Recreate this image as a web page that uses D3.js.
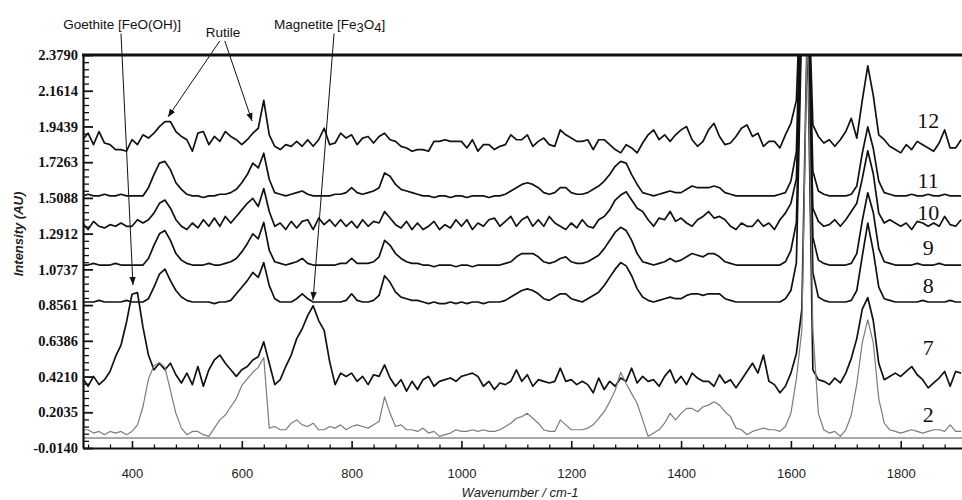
<!DOCTYPE html>
<html lang="en">

<head>
    <meta charset="utf-8">
    <script src="https://d3js.org/d3.v7.min.js"></script>
    <style>
        body {
            margin: 0;
            background: #fff;
        }
    </style>
</head>

<body>
    <script>
        // wavenumber grid (cm-1), one reading every 10 cm-1 from 310 to 1910
        const wavenumbers = d3.range(310, 1911, 10);

        // spectrum names, the offset each one is stacked at, and where its number sits
        const labels = ["12", "11", "10", "9", "8", "7", "2"];
        const baselines = [1.813, 1.521, 1.326, 1.100, 0.875, 0.382, 0.077];
        const labelLevels = [1.935, 1.569, 1.375, 1.161, 0.930, 0.552, 0.144];

        // intensity above the baseline (AU)
        const s12 = [
            0.05, 0.09, 0.02, 0.10, 0.03, 0.02, -0.01, -0.01, -0.02, 0.05,   // 310-400
            0.02, 0.08, 0.06, 0.09, 0.13, 0.16, 0.16, 0.10, 0.07, 0.05,      // 410-500
            -0.02, 0.09, 0.10, 0.02, 0.07, 0.04, 0.10, 0.07, 0.05, 0.02,     // 510-600
            0.05, 0.09, 0.12, 0.29, 0.08, 0.01, -0.01, 0.02, 0.01, 0.04,     // 610-700
            0.01, 0.05, 0.01, 0.05, 0.12, 0.02, 0.03, 0.09, 0.06, 0.08,      // 710-800
            0.02, 0.06, 0.07, 0.03, 0.07, 0.09, 0.05, 0.04, 0.01, 0.00,      // 810-900
            -0.02, -0.01, -0.01, -0.02, 0.04, 0.04, 0.05, 0.04, 0.04, 0.04,  // 910-1000
            0.00, 0.05, -0.02, 0.02, 0.02, -0.01, 0.01, 0.02, 0.08, 0.05,    // 1010-1100
            0.05, 0.08, 0.01, 0.04, 0.06, 0.02, 0.01, 0.11, 0.08, 0.06,      // 1110-1200
            0.04, 0.04, 0.05, -0.01, 0.05, 0.05, 0.02, -0.01, -0.03, 0.02,   // 1210-1300
            0.00, -0.03, 0.03, 0.08, 0.11, 0.05, 0.08, 0.04, 0.08, 0.11,     // 1310-1400
            0.13, 0.05, 0.01, 0.04, 0.11, 0.15, 0.07, 0.02, 0.03, 0.07,      // 1410-1500
            0.12, 0.14, 0.07, 0.09, 0.01, 0.04, 0.04, 0.00, 0.08, 0.15,      // 1510-1600
            0.29, 1.20, 1.20, 0.14, 0.07, 0.03, 0.05, 0.01, 0.05, 0.10,      // 1610-1700
            0.18, 0.06, 0.29, 0.50, 0.32, 0.08, 0.05, 0.01, -0.01, -0.03,    // 1710-1800
            0.02, -0.01, 0.04, 0.02, 0.00, -0.02, 0.03, 0.11, 0.00, 0.00,    // 1810-1900
            0.05
        ];
        const s11 = [
            0, 0.01, 0, 0, 0.01, 0, 0, 0.01, 0, 0,
            0, 0, 0.05, 0.13, 0.20, 0.21, 0.16, 0.08, 0.04, 0.01,
            0, 0, -0.01, 0, 0, 0.01, 0.01, 0.02, 0.04, 0.08,
            0.13, 0.20, 0.17, 0.26, 0.10, 0.02, 0.01, 0, 0.01, 0.02,
            0.03, 0.01, 0, 0, 0, 0, 0.01, 0.01, 0.02, 0.05,
            0.02, 0.01, 0.02, 0.03, 0.05, 0.14, 0.12, 0.07, 0.04, 0.03,
            0.02, 0.01, 0, 0, -0.01, 0, 0, -0.01, 0, 0,
            -0.01, 0, 0, 0, -0.01, 0, 0, 0.01, 0.03, 0.05,
            0.07, 0.08, 0.07, 0.05, 0.02, 0.01, 0.02, 0.05, 0.05, 0.02,
            0.01, 0.01, 0.02, 0.04, 0.06, 0.09, 0.13, 0.18, 0.21, 0.20,
            0.13, 0.07, 0.02, 0.01, 0, 0.01, 0.02, 0.03, 0.02, 0.02,
            0.04, 0.06, 0.05, 0.05, 0.05, 0.06, 0.05, 0.02, 0.01, 0,
            0, 0, 0, 0, 0, 0, 0, 0.01, 0.02, 0.09,
            0.27, 1.50, 1.50, 0.15, 0.03, 0.01, 0, 0, 0, 0,
            0.01, 0.06, 0.26, 0.42, 0.29, 0.09, 0.02, 0.01, 0, 0,
            0, 0.01, 0, 0, 0.01, 0, 0, 0.01, 0, 0,
            0
        ];
        const s10 = [
            0.03, -0.01, 0.04, 0.01, 0, 0.02, 0.01, 0.03, 0.01, 0.01,
            0.05, 0.03, 0.05, 0.09, 0.15, 0.17, 0.12, 0.05, 0.01, -0.01,
            0.03, 0, 0.05, 0.01, 0.06, 0.01, 0.07, 0.03, 0.07, 0.11,
            0.15, 0.18, 0.13, 0.24, 0.10, 0.01, 0.03, -0.01, 0.04, 0,
            0.04, 0.05, -0.01, 0.06, 0.02, 0.05, 0.01, 0.05, 0.01, 0.04,
            0, 0.05, 0.01, 0.04, 0.03, 0.10, 0.06, 0.02, 0, 0.04,
            -0.01, 0.03, -0.01, 0.01, 0.04, -0.01, 0.02, 0, 0.05, 0.01,
            0.05, -0.01, 0.03, 0.01, 0.05, 0.06, 0.01, 0.04, 0.07, 0.01,
            0.05, 0.07, 0.01, 0.05, 0.01, 0.07, 0.03, 0.01, -0.01, 0.03,
            0, 0.05, 0.01, 0, 0.05, 0.07, 0.11, 0.17, 0.20, 0.22,
            0.17, 0.12, 0.10, 0.05, 0.01, 0.06, 0.05, 0.10, 0.04, 0.06,
            0.03, 0.01, 0.05, 0.07, 0.10, 0.06, 0.07, 0.05, 0.01, -0.01,
            0.03, 0.01, 0.01, 0.05, 0.01, 0.03, -0.01, 0.05, 0.09, 0.15,
            0.30, 1.40, 1.40, 0.12, 0.04, 0.01, 0.02, 0.05, 0.01, 0.05,
            0.10, 0.15, 0.30, 0.47, 0.33, 0.09, 0.03, 0.05, 0.03, 0.01,
            0.03, -0.01, 0.04, 0.03, 0.01, 0.03, 0.01, 0.07, 0.02, 0.01,
            0.05
        ];
        const s9 = [
            0, 0, 0.01, 0, 0, 0, 0.01, 0, 0, 0,
            0, 0, 0.04, 0.12, 0.19, 0.21, 0.15, 0.07, 0.03, 0.01,
            0, 0, 0, 0.01, 0, 0, 0.01, 0.02, 0.04, 0.08,
            0.13, 0.19, 0.16, 0.26, 0.09, 0.02, 0.01, 0, 0.01, 0.02,
            0.04, 0.01, 0, 0, 0, 0, 0, 0.01, 0.01, 0.04,
            0.01, 0.01, 0.01, 0.02, 0.05, 0.15, 0.12, 0.07, 0.04, 0.02,
            0.01, 0.01, 0, 0, -0.01, 0, 0, 0, -0.01, 0,
            0, -0.01, 0, 0, 0, 0, 0, 0.01, 0.02, 0.05,
            0.07, 0.07, 0.07, 0.05, 0.02, 0.01, 0.02, 0.04, 0.05, 0.02,
            0.01, 0.01, 0.02, 0.04, 0.06, 0.10, 0.15, 0.20, 0.23, 0.21,
            0.15, 0.07, 0.02, 0.01, 0, 0.01, 0.02, 0.04, 0.02, 0.03,
            0.05, 0.07, 0.06, 0.05, 0.07, 0.07, 0.05, 0.02, 0.01, 0,
            0, 0, 0, 0, 0, 0, 0, 0, 0.02, 0.09,
            0.26, 1.60, 1.60, 0.17, 0.03, 0.01, 0, 0, 0, 0,
            0.01, 0.07, 0.27, 0.44, 0.32, 0.10, 0.02, 0.01, 0, 0,
            0, 0, 0.01, 0, 0, 0, 0.01, 0, 0, 0,
            0
        ];
        const s8 = [
            0, 0, 0, 0.01, 0, 0, 0, 0, 0.01, 0,
            0, 0, 0.02, 0.09, 0.17, 0.20, 0.13, 0.07, 0.03, 0.01,
            0, 0, 0, 0, -0.01, 0, 0, 0.01, 0.05, 0.09,
            0.13, 0.18, 0.15, 0.24, 0.10, 0.02, 0, 0, 0, 0.02,
            0.05, 0.02, 0, 0, 0, 0, 0, 0, 0.01, 0.05,
            0.01, 0, 0, 0.01, 0.04, 0.16, 0.12, 0.06, 0.03, 0.02,
            0.01, 0.01, 0, -0.01, 0, -0.01, -0.01, 0, -0.01, 0,
            -0.01, 0, 0, -0.01, 0, 0, 0, 0.01, 0.03, 0.05,
            0.07, 0.08, 0.07, 0.05, 0.02, 0.01, 0.03, 0.05, 0.05, 0.02,
            0.01, 0, 0.02, 0.04, 0.06, 0.10, 0.15, 0.20, 0.24, 0.22,
            0.16, 0.08, 0.03, 0.01, 0, 0.01, 0.02, 0.03, 0.02, 0.02,
            0.04, 0.05, 0.05, 0.04, 0.05, 0.05, 0.05, 0.02, 0.01, 0,
            0, 0, 0, 0, 0, 0, 0, 0, 0.02, 0.07,
            0.24, 1.75, 1.75, 0.18, 0.03, 0.01, 0, 0, 0, 0,
            0.01, 0.07, 0.28, 0.48, 0.31, 0.09, 0.02, 0.01, 0, 0,
            0, 0, 0, 0.01, 0, 0, 0, 0, 0.01, 0,
            0
        ];
        const s7 = [
            0.03, -0.02, 0.04, -0.01, 0.02, 0.07, 0.16, 0.23, 0.37, 0.54,
            0.55, 0.34, 0.17, 0.08, 0.12, 0.08, 0.12, 0.05, 0, 0.06,
            -0.01, 0.10, -0.02, 0.08, 0.14, 0.17, 0.12, 0.08, 0.04, 0.08,
            0.10, 0.14, 0.16, 0.25, 0.12, -0.01, 0.02, 0.10, 0.17, 0.27,
            0.33, 0.41, 0.47, 0.38, 0.32, 0.13, -0.01, 0.06, 0.04, 0.06,
            0.01, 0.04, -0.01, 0.05, 0.04, 0.11, 0.03, -0.02, 0.02, -0.05,
            0.01, -0.04, 0.02, 0.04, -0.02, 0.01, 0.02, 0.03, 0.01, 0.04,
            0.05, 0.06, 0.04, -0.02, 0.01, -0.04, 0, -0.01, 0.01, 0.08,
            0.01, 0.05, -0.02, 0.02, 0.01, 0, 0.01, 0.09, 0.01, 0.02,
            -0.01, 0.01, -0.01, -0.06, 0.03, -0.04, 0.01, -0.02, 0.03, 0.01,
            0.09, 0, 0.04, 0.01, 0.02, -0.02, 0.04, 0.08, 0, 0.04,
            -0.01, 0.06, 0.03, 0.01, 0.01, -0.02, 0.05, 0, 0.02, -0.03,
            0.02, 0.07, 0.12, 0.06, 0.17, 0.01, -0.01, -0.06, -0.02, 0.06,
            0.18, 0.45, 2.20, 0.08, 0.02, 0.01, -0.01, 0.03, 0, 0.06,
            0.15, 0.27, 0.45, 0.52, 0.38, 0.12, 0.02, 0.04, 0.06, 0.04,
            0.07, 0.10, 0.05, 0.02, -0.03, 0, 0.03, 0.07, -0.02, 0.07,
            0.06
        ];
        const s2 = [
            0.02, 0.02, 0, 0.01, -0.01, 0.01, 0, 0.01, -0.01, 0.01,
            0.05, 0.16, 0.33, 0.41, 0.43, 0.40, 0.26, 0.12, 0.03, -0.01,
            0.01, 0.01, -0.01, -0.02, 0.03, 0.08, 0.11, 0.16, 0.21, 0.29,
            0.33, 0.37, 0.40, 0.46, 0.03, 0.04, 0.02, 0.02, 0.06, 0.08,
            0.05, 0.04, 0.06, 0.02, 0.02, 0.04, 0.03, 0.05, 0.02, 0.04,
            0.05, 0.04, 0.03, 0.05, 0.07, 0.22, 0.12, 0.04, 0.05, 0.02,
            0.02, 0.01, 0.03, 0, 0.01, -0.02, -0.01, 0, 0.02, 0.01,
            0.01, 0.02, 0.01, 0.02, 0.01, 0.01, 0.02, 0.04, 0.06, 0.09,
            0.10, 0.12, 0.09, 0.06, 0.02, 0.01, 0.01, 0.08, 0.05, 0.02,
            0.02, 0.02, 0.03, 0.05, 0.09, 0.13, 0.19, 0.26, 0.37, 0.30,
            0.24, 0.18, 0.08, -0.02, 0, 0.02, 0.06, 0.12, 0.08, 0.12,
            0.15, 0.15, 0.13, 0.16, 0.17, 0.19, 0.17, 0.13, 0.10, 0.03,
            0.02, -0.01, 0.01, 0.02, 0.03, 0.02, 0.02, 0.01, 0.04, 0.12,
            0.33, 0.63, 2.50, 0.63, 0.12, 0.02, 0, 0.01, -0.02, 0.02,
            0.11, 0.30, 0.55, 0.69, 0.55, 0.21, 0.06, 0.02, 0.01, 0,
            0.01, 0.02, 0.01, 0, 0.01, 0.02, 0.02, 0.01, 0.05, 0.01,
            0.01
        ];
        const spectra = [s12, s11, s10, s9, s8, s7, s2];

        const yTickLabels = ["-0.0140", "0.2035", "0.4210", "0.6386", "0.8561", "1.0737",
            "1.2912", "1.5088", "1.7263", "1.9439", "2.1614", "2.3790"];
        const xTickValues = [400, 600, 800, 1000, 1200, 1400, 1600, 1800];
        const grayLevel = 0.047; // flat grey reference line under spectrum 2

        const width = 962;
        const height = 500;
        const plotLeft = 83, plotRight = 962, plotTop = 55, plotBottom = 448;

        const x = d3.scaleLinear().domain([310.8, 1911.6]).range([plotLeft, plotRight]);
        const y = d3.scaleLinear().domain([-0.014, 2.379]).range([plotBottom, plotTop]);

        const svg = d3.select("body")
            .append("svg")
            .attr("width", width)
            .attr("height", height)
            .style("display", "block");

        const defs = svg.append("defs");
        defs.append("clipPath")
            .attr("id", "plot")
            .append("rect")
            .attr("x", plotLeft)
            .attr("y", plotTop)
            .attr("width", plotRight - plotLeft)
            .attr("height", plotBottom - plotTop);

        defs.append("marker")
            .attr("id", "head")
            .attr("viewBox", "0 0 10 10")
            .attr("refX", 10)
            .attr("refY", 5)
            .attr("markerWidth", 8)
            .attr("markerHeight", 8)
            .attr("markerUnits", "userSpaceOnUse")
            .attr("orient", "auto")
            .append("path")
            .attr("d", "M0,1 L10,5 L0,9 Z")
            .attr("fill", "#111");

        // grey horizontal line
        svg.append("line")
            .attr("x1", plotLeft)
            .attr("x2", plotRight)
            .attr("y1", y(grayLevel))
            .attr("y2", y(grayLevel))
            .attr("stroke", "#a8a8a8")
            .attr("stroke-width", 2.2);

        // spectra
        const plot = svg.append("g").attr("clip-path", "url(#plot)");

        spectra.forEach((s, k) => {
            const line = d3.line()
                .x((d, i) => x(wavenumbers[i]))
                .y(d => y(baselines[k] + d));
            plot.append("path")
                .datum(s)
                .attr("fill", "none")
                .attr("stroke", labels[k] === "2" ? "#7c7c7c" : "#111")
                .attr("stroke-width", labels[k] === "2" ? 1.2 : 1.7)
                .attr("stroke-linejoin", "round")
                .attr("d", line);
        });

        // spectrum numbers on the right
        svg.selectAll(".num")
            .data(labels)
            .enter()
            .append("text")
            .attr("class", "num")
            .attr("x", x(1850))
            .attr("y", (d, i) => y(labelLevels[i]))
            .attr("text-anchor", "middle")
            .style("font-family", "'Liberation Serif', 'Times New Roman', serif")
            .style("font-size", "22px")
            .attr("fill", "#111")
            .text(d => d);

        // x axis, ticks pointing up into the plot
        const xMinor = d3.range(320, 1900, 40).filter(v => v % 200 !== 0);
        svg.append("g")
            .attr("transform", "translate(0," + plotBottom + ")")
            .call(d3.axisBottom(x).tickValues(xMinor).tickSize(-3.5).tickFormat(""))
            .call(g => g.select(".domain").remove())
            .call(g => g.selectAll("line").attr("stroke", "#111").attr("stroke-width", 1.3));

        svg.append("g")
            .attr("transform", "translate(0," + plotBottom + ")")
            .call(d3.axisBottom(x).tickValues(xTickValues).tickSize(-7).tickSizeOuter(0).tickPadding(21).tickFormat(d3.format("d")))
            .call(g => g.select(".domain").attr("stroke", "#111").attr("stroke-width", 2))
            .call(g => g.selectAll("line").attr("stroke", "#111").attr("stroke-width", 1.6))
            .call(g => g.selectAll("text")
                .attr("fill", "#222")
                .style("font-family", "'Liberation Sans', Arial, sans-serif")
                .style("font-size", "13px"));

        // y axis, ticks pointing right into the plot
        const yMajor = yTickLabels.map(Number);
        const yMinor = [];
        for (let i = 0; i < yMajor.length - 1; i++) {
            const step = (yMajor[i + 1] - yMajor[i]) / 5;
            for (let j = 1; j < 5; j++) yMinor.push(yMajor[i] + step * j);
        }
        svg.append("g")
            .attr("transform", "translate(" + plotLeft + ",0)")
            .call(d3.axisLeft(y).tickValues(yMinor).tickSize(-6).tickFormat(""))
            .call(g => g.select(".domain").remove())
            .call(g => g.selectAll("line").attr("stroke", "#111").attr("stroke-width", 1.3));

        svg.append("g")
            .attr("transform", "translate(" + plotLeft + ",0)")
            .call(d3.axisLeft(y).tickValues(yMajor).tickSize(-10).tickSizeOuter(0).tickPadding(5)
                .tickFormat((d, i) => yTickLabels[i]))
            .call(g => g.select(".domain").attr("stroke", "#111").attr("stroke-width", 2.2))
            .call(g => g.selectAll("line").attr("stroke", "#111").attr("stroke-width", 1.8))
            .call(g => g.selectAll("text")
                .attr("fill", "#111")
                .style("font-family", "'Liberation Serif', 'Times New Roman', serif")
                .style("font-weight", "bold")
                .style("font-size", "14.5px"));

        // top frame line
        svg.append("line")
            .attr("x1", plotLeft - 1)
            .attr("x2", plotRight)
            .attr("y1", plotTop)
            .attr("y2", plotTop)
            .attr("stroke", "#111")
            .attr("stroke-width", 3);

        // axis titles
        svg.append("text")
            .attr("x", 520)
            .attr("y", 497)
            .attr("text-anchor", "middle")
            .style("font-family", "'Liberation Sans', Arial, sans-serif")
            .style("font-style", "italic")
            .style("font-size", "13px")
            .attr("fill", "#222")
            .text("Wavenumber / cm-1");

        svg.append("text")
            .attr("transform", "translate(23,234) rotate(-90)")
            .attr("text-anchor", "middle")
            .style("font-family", "'Liberation Sans', Arial, sans-serif")
            .style("font-style", "italic")
            .style("font-weight", "bold")
            .style("font-size", "13px")
            .attr("fill", "#222")
            .text("Intensity (AU)");

        // mineral annotations, anchored in data units
        const noteFont = "'Liberation Sans', Arial, sans-serif";
        svg.append("text")
            .attr("x", x(382))
            .attr("y", y(2.538))
            .attr("text-anchor", "middle")
            .style("font-family", noteFont)
            .style("font-size", "13.5px")
            .attr("fill", "#111")
            .text("Goethite [FeO(OH)]");

        svg.append("text")
            .attr("x", x(566))
            .attr("y", y(2.489))
            .attr("text-anchor", "middle")
            .style("font-family", noteFont)
            .style("font-size", "13.5px")
            .attr("fill", "#111")
            .text("Rutile");

        const mag = svg.append("text")
            .attr("x", x(658.6))
            .attr("y", y(2.538))
            .style("font-family", noteFont)
            .style("font-size", "13.5px")
            .attr("fill", "#111");
        mag.append("tspan").text("Magnetite [Fe");
        mag.append("tspan").attr("dy", 3).style("font-size", "13px").text("3");
        mag.append("tspan").attr("dy", -3).text("O");
        mag.append("tspan").attr("dy", 3).style("font-size", "13px").text("4");
        mag.append("tspan").attr("dy", -3).text("]");

        // arrows: [from wavenumber, from AU, to wavenumber, to AU]
        const arrows = [
            [380, 2.51, 401.8, 0.979],
            [560, 2.465, 465.6, 2.002],
            [569, 2.465, 618.6, 1.977],
            [768, 2.51, 729.7, 0.887]
        ];
        svg.selectAll(".arrow")
            .data(arrows)
            .enter()
            .append("line")
            .attr("class", "arrow")
            .attr("x1", d => x(d[0]))
            .attr("y1", d => y(d[1]))
            .attr("x2", d => x(d[2]))
            .attr("y2", d => y(d[3]))
            .attr("stroke", "#111")
            .attr("stroke-width", 1)
            .attr("marker-end", "url(#head)");
    </script>
</body>

</html>
